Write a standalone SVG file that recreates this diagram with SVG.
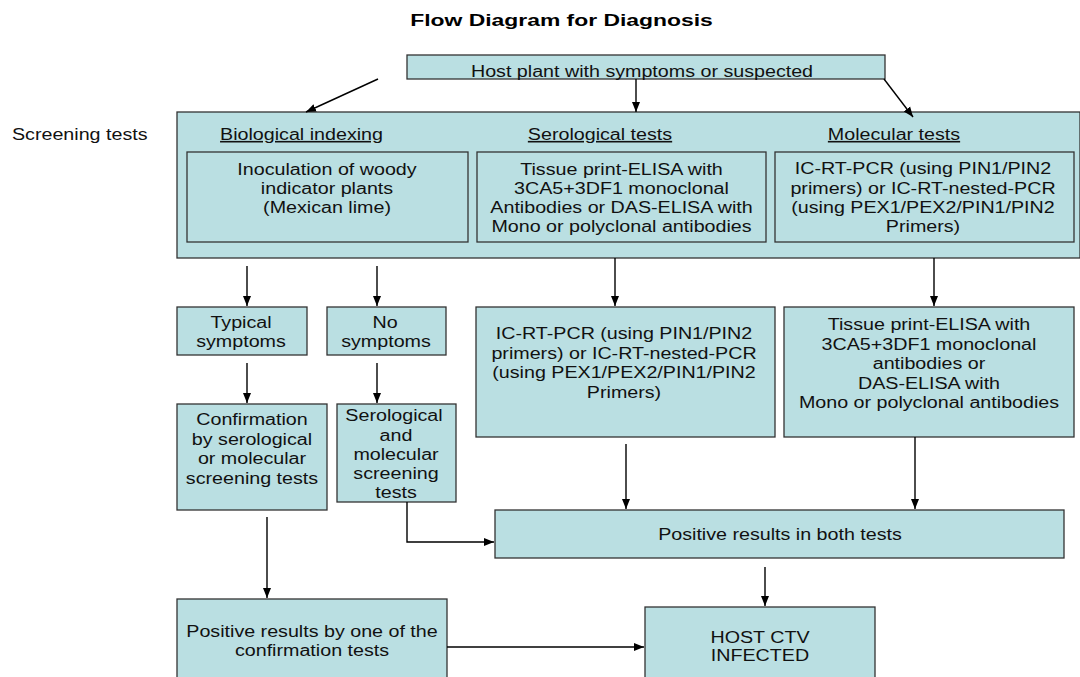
<svg xmlns="http://www.w3.org/2000/svg" width="1080" height="677" viewBox="0 0 1080 677">
<style>
.box{fill:#badfe2;stroke:#333;stroke-width:1.3}
.t{font-family:"Liberation Sans",Arial,sans-serif;font-size:16px;fill:#111;text-anchor:middle}
.title{font-family:"Liberation Sans",Arial,sans-serif;font-size:16px;font-weight:bold;fill:#000;text-anchor:middle}
.u{text-decoration:underline}
.c{stroke:#000;stroke-width:1.4;fill:none}
</style>
<defs>
<marker id="ah" markerUnits="userSpaceOnUse" markerWidth="10" markerHeight="10" viewBox="0 0 10 10" refX="10" refY="5" orient="auto">
<path d="M0,1 L10,5 L0,9 Z" fill="#000"/>
</marker>
</defs>
<rect width="1080" height="677" fill="#fff"/>
<text class="title" transform="translate(561.5 26) scale(1.43 1)">Flow Diagram for Diagnosis</text>
<text class="t" style="text-anchor:start" transform="translate(12 140) scale(1.23 1)">Screening tests</text>

<g id="host"><rect class="box" x="407" y="55" width="478" height="24"/>
<text class="t" transform="translate(642 77) scale(1.23 1)">Host plant with symptoms or suspected</text></g>

<g id="screening"><rect class="box" x="177" y="112" width="903" height="146"/>
<text class="t u" transform="translate(301.5 140) scale(1.23 1)">Biological indexing</text>
<text class="t u" transform="translate(600 140) scale(1.23 1)">Serological tests</text>
<text class="t u" transform="translate(894 140) scale(1.23 1)">Molecular tests</text></g>

<g id="inoculation"><rect class="box" x="187" y="152" width="281" height="90"/>
<text class="t" transform="translate(327 175) scale(1.23 1)">Inoculation of woody</text>
<text class="t" transform="translate(327 194) scale(1.23 1)">indicator plants</text>
<text class="t" transform="translate(327 213) scale(1.23 1)">(Mexican lime)</text></g>

<g id="tissue1"><rect class="box" x="477" y="152" width="289" height="90"/>
<text class="t" transform="translate(621.5 175) scale(1.23 1)">Tissue print-ELISA with</text>
<text class="t" transform="translate(621.5 194) scale(1.23 1)">3CA5+3DF1 monoclonal</text>
<text class="t" transform="translate(621.5 213) scale(1.23 1)">Antibodies or DAS-ELISA with</text>
<text class="t" transform="translate(621.5 232) scale(1.23 1)">Mono or polyclonal antibodies</text></g>

<g id="icrt1"><rect class="box" x="775" y="152" width="299" height="90"/>
<text class="t" transform="translate(923 174) scale(1.23 1)">IC-RT-PCR (using PIN1/PIN2</text>
<text class="t" transform="translate(923 193.5) scale(1.23 1)">primers) or IC-RT-nested-PCR</text>
<text class="t" transform="translate(923 213) scale(1.23 1)">(using PEX1/PEX2/PIN1/PIN2</text>
<text class="t" transform="translate(923 232) scale(1.23 1)">Primers)</text></g>

<g id="typical"><rect class="box" x="177" y="307" width="130" height="48"/>
<text class="t" transform="translate(241 328) scale(1.23 1)">Typical</text>
<text class="t" transform="translate(241 347) scale(1.23 1)">symptoms</text></g>

<g id="nosymptoms"><rect class="box" x="327" y="307" width="119" height="48"/>
<text class="t" transform="translate(385 328) scale(1.23 1)">No</text>
<text class="t" transform="translate(386 347) scale(1.23 1)">symptoms</text></g>

<g id="icrt2"><rect class="box" x="476" y="307" width="299" height="130"/>
<text class="t" transform="translate(624 339) scale(1.23 1)">IC-RT-PCR (using PIN1/PIN2</text>
<text class="t" transform="translate(624 358.5) scale(1.23 1)">primers) or IC-RT-nested-PCR</text>
<text class="t" transform="translate(624 378) scale(1.23 1)">(using PEX1/PEX2/PIN1/PIN2</text>
<text class="t" transform="translate(624 397.5) scale(1.23 1)">Primers)</text></g>

<g id="tissue2"><rect class="box" x="784" y="307" width="290" height="130"/>
<text class="t" transform="translate(929 330) scale(1.23 1)">Tissue print-ELISA with</text>
<text class="t" transform="translate(929 349.5) scale(1.23 1)">3CA5+3DF1 monoclonal</text>
<text class="t" transform="translate(929 369) scale(1.23 1)">antibodies or</text>
<text class="t" transform="translate(929 388.5) scale(1.23 1)">DAS-ELISA with</text>
<text class="t" transform="translate(929 408) scale(1.23 1)">Mono or polyclonal antibodies</text></g>

<g id="confirmation"><rect class="box" x="177" y="404" width="150" height="106"/>
<text class="t" transform="translate(252 425) scale(1.23 1)">Confirmation</text>
<text class="t" transform="translate(252 444.5) scale(1.23 1)">by serological</text>
<text class="t" transform="translate(252 464) scale(1.23 1)">or molecular</text>
<text class="t" transform="translate(252 483.5) scale(1.23 1)">screening tests</text></g>

<g id="seromol"><rect class="box" x="337" y="404" width="119" height="98"/>
<text class="t" transform="translate(394 421) scale(1.23 1)">Serological</text>
<text class="t" transform="translate(396 440.5) scale(1.23 1)">and</text>
<text class="t" transform="translate(396 460) scale(1.23 1)">molecular</text>
<text class="t" transform="translate(396 479) scale(1.23 1)">screening</text>
<text class="t" transform="translate(396 498) scale(1.23 1)">tests</text></g>

<g id="posboth"><rect class="box" x="495" y="510" width="569" height="48"/>
<text class="t" transform="translate(780 540) scale(1.23 1)">Positive results in both tests</text></g>

<g id="posone"><rect class="box" x="177" y="599" width="270" height="100"/>
<text class="t" transform="translate(312 637) scale(1.23 1)">Positive results by one of the</text>
<text class="t" transform="translate(312 656) scale(1.23 1)">confirmation tests</text></g>

<g id="infected"><rect class="box" x="645" y="607" width="230" height="100"/>
<text class="t" transform="translate(760 643) scale(1.23 1)">HOST CTV</text>
<text class="t" transform="translate(760 661) scale(1.23 1)">INFECTED</text></g>

<g id="connectors" class="c" marker-end="url(#ah)">
<line x1="378" y1="79" x2="306" y2="112"/>
<line x1="636" y1="79" x2="636" y2="112"/>
<line x1="884" y1="79" x2="913" y2="117"/>
<line x1="247" y1="266" x2="247" y2="306"/>
<line x1="377" y1="266" x2="377" y2="306"/>
<line x1="615" y1="258" x2="615" y2="306"/>
<line x1="934" y1="258" x2="934" y2="306"/>
<line x1="247" y1="363" x2="247" y2="403"/>
<line x1="377" y1="363" x2="377" y2="403"/>
<line x1="626" y1="444" x2="626" y2="509"/>
<line x1="915" y1="437" x2="915" y2="509"/>
<polyline points="407,502 407,542 494,542"/>
<line x1="267" y1="517" x2="267" y2="598"/>
<line x1="447" y1="647" x2="644" y2="647"/>
<line x1="765" y1="567" x2="765" y2="606"/>
</g>
</svg>
